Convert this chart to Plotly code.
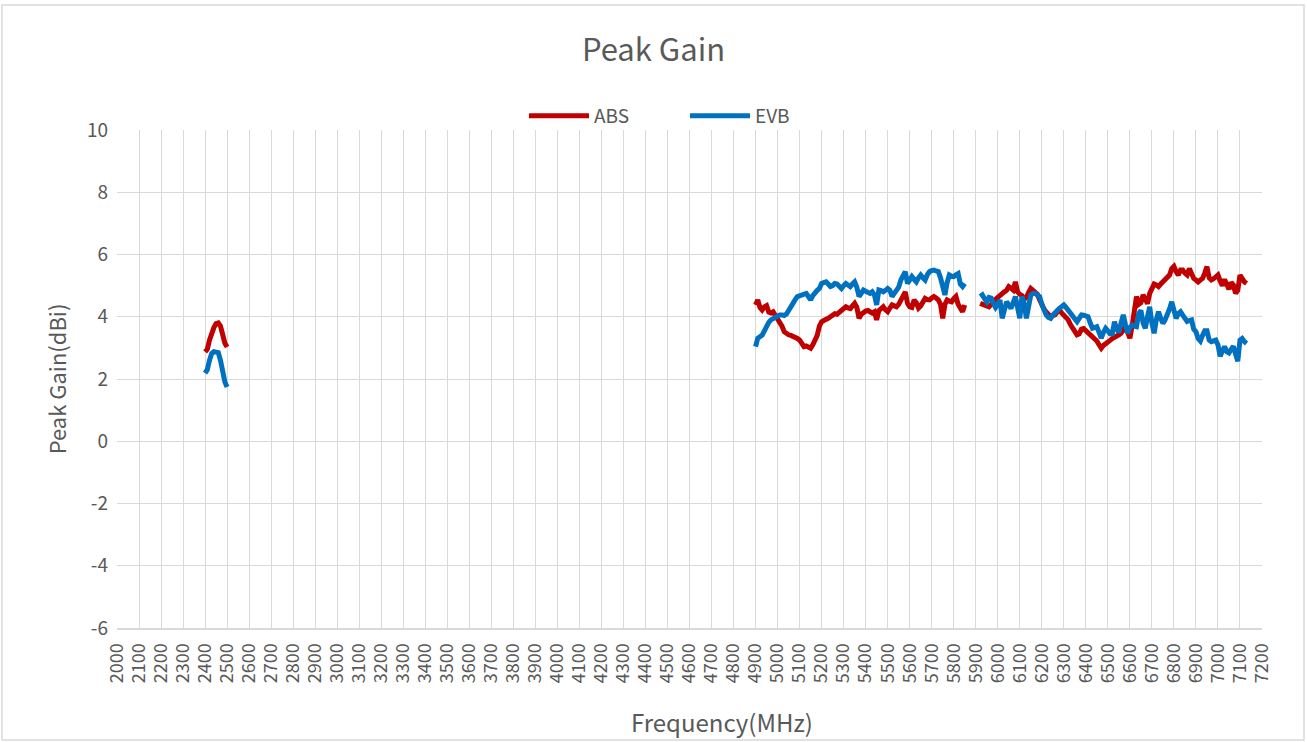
import plotly.graph_objects as go

# ---------------- data ----------------
f_24 = list(range(2400, 2510, 10))
abs_24 = [2.87, 2.95, 3.25, 3.50, 3.65, 3.78, 3.80, 3.70, 3.40, 3.15, 3.03]
evb_24 = [2.19, 2.30, 2.60, 2.82, 2.88, 2.87, 2.85, 2.60, 2.20, 1.90, 1.74]

f_5g = list(range(4900, 5860, 10))
abs_5g = [4.38, 4.54, 4.30, 4.22, 4.32, 4.36, 4.15, 4.12, 4.16, 4.05,
          3.98, 3.88, 3.70, 3.52, 3.45, 3.42, 3.40, 3.38, 3.34, 3.30,
          3.25, 3.12, 3.04, 3.06, 3.04, 2.99, 3.10, 3.22, 3.40, 3.70,
          3.84, 3.88, 3.90, 3.95, 4.00, 4.04, 4.10, 4.08, 4.14, 4.16,
          4.22, 4.32, 4.28, 4.26, 4.35, 4.43, 4.30, 3.95, 4.08, 4.16,
          4.18, 4.20, 4.18, 4.12, 4.16, 3.90, 4.20, 4.26, 4.32, 4.22,
          4.16, 4.28, 4.38, 4.35, 4.32, 4.40, 4.55, 4.62, 4.80, 4.43,
          4.32, 4.30, 4.54, 4.45, 4.28, 4.35, 4.52, 4.59, 4.55, 4.54,
          4.60, 4.65, 4.60, 4.54, 4.40, 3.95, 4.40, 4.54, 4.50, 4.48,
          4.58, 4.65, 4.40, 4.25, 4.16, 4.38]
evb_5g = [3.04, 3.31, 3.36, 3.41, 3.55, 3.73, 3.82, 3.90, 3.95, 4.00,
          4.03, 4.06, 4.06, 4.04, 4.08, 4.22, 4.35, 4.43, 4.55, 4.65,
          4.68, 4.70, 4.72, 4.75, 4.65, 4.54, 4.68, 4.78, 4.85, 4.91,
          5.07, 5.10, 5.12, 5.05, 4.97, 5.00, 5.07, 5.05, 4.95, 4.91,
          5.00, 5.07, 5.02, 4.97, 5.05, 5.12, 4.95, 4.65, 4.75, 4.86,
          4.82, 4.78, 4.75, 4.80, 4.70, 4.38, 4.86, 4.84, 4.80, 4.85,
          4.91, 4.85, 4.65, 4.75, 4.88, 4.95, 5.18, 5.30, 5.45, 5.07,
          5.20, 5.29, 5.20, 5.12, 5.25, 5.34, 5.25, 5.18, 5.35, 5.45,
          5.48, 5.50, 5.47, 5.45, 5.25, 4.97, 4.70, 5.10, 5.34, 5.30,
          5.29, 5.35, 5.39, 5.05, 4.97, 5.07]

f_6g = list(range(5920, 7140, 10))
abs_6g = [4.43, 4.40, 4.38, 4.35, 4.32, 4.40, 4.50, 4.56, 4.62, 4.70,
          4.75, 4.80, 4.85, 4.97, 4.92, 4.86, 5.12, 4.80, 4.72, 4.68,
          4.56, 4.62, 4.78, 4.91, 4.85, 4.80, 4.72, 4.55, 4.36, 4.25,
          4.15, 4.04, 4.00, 4.04, 4.06, 4.15, 4.22, 4.12, 4.06, 4.00,
          3.90, 3.75, 3.63, 3.52, 3.42, 3.45, 3.60, 3.62, 3.55, 3.52,
          3.45, 3.36, 3.30, 3.22, 3.10, 2.99, 3.08, 3.15, 3.20, 3.24,
          3.30, 3.33, 3.36, 3.42, 3.47, 3.55, 3.68, 3.50, 3.31, 3.70,
          4.10, 4.65, 4.40, 4.45, 4.70, 4.50, 4.42, 4.75, 4.90, 5.05,
          5.02, 4.97, 5.05, 5.12, 5.18, 5.25, 5.34, 5.55, 5.62, 5.45,
          5.34, 5.50, 5.50, 5.40, 5.34, 5.55, 5.40, 5.23, 5.18, 5.12,
          5.18, 5.23, 5.40, 5.61, 5.25, 5.18, 5.22, 5.28, 5.34, 5.15,
          5.00, 5.20, 5.05, 4.88, 5.10, 5.02, 4.75, 4.85, 5.34, 5.20,
          5.12, 5.07]
evb_6g = [4.65, 4.70, 4.58, 4.48, 4.62, 4.60, 4.43, 4.30, 4.40, 4.54,
          3.95, 4.20, 4.48, 4.38, 4.27, 4.45, 4.65, 4.30, 3.95, 4.65,
          4.43, 3.95, 4.30, 4.70, 4.75, 4.75, 4.70, 4.65, 4.40, 4.22,
          4.06, 3.98, 3.95, 4.05, 4.16, 4.20, 4.27, 4.32, 4.38, 4.30,
          4.22, 4.10, 4.00, 3.92, 3.84, 3.95, 4.06, 4.05, 4.02, 4.00,
          3.80, 3.63, 3.65, 3.68, 3.50, 3.31, 3.50, 3.63, 3.55, 3.45,
          3.45, 3.84, 3.60, 3.50, 3.80, 4.06, 3.75, 3.47, 3.65, 3.73,
          3.70, 3.68, 4.10, 4.20, 3.80, 3.63, 4.00, 4.32, 3.80, 3.47,
          3.90, 4.16, 3.95, 3.79, 3.90, 4.06, 4.25, 4.48, 4.20, 3.95,
          4.10, 4.16, 4.05, 3.95, 3.85, 3.88, 3.90, 3.60, 3.52, 3.30,
          3.22, 3.40, 3.55, 3.55, 3.25, 3.20, 3.22, 3.25, 3.10, 2.73,
          2.90, 3.04, 2.88, 2.84, 2.95, 3.05, 2.80, 2.57, 3.25, 3.30,
          3.20, 3.14]

x_ticks = list(range(2000, 7300, 100))
y_ticks = list(range(-6, 12, 2))
y_labels = [str(v) for v in y_ticks]

# ---------------- build ----------------
def join(*segs):
    out = []
    for i, s in enumerate(segs):
        if i:
            out.append(None)
        out.extend(s)
    return out

x_all = join(f_24, f_5g, f_6g)
abs_all = join(abs_24, abs_5g, abs_6g)
evb_all = join(evb_24, evb_5g, evb_6g)

FONT = "Noto Sans CJK SC"
GREY = "#595959"
GRID = "#d9d9d9"

fig = go.Figure()
fig.add_trace(go.Scatter(x=x_all, y=abs_all, name="ABS", mode="lines",
                         line=dict(color="#C00000", width=5), connectgaps=False))
fig.add_trace(go.Scatter(x=x_all, y=evb_all, name="EVB", mode="lines",
                         line=dict(color="#0070C0", width=5), connectgaps=False))

L, R, T, B = 117, 45, 130, 114
W, H = 1307, 742
pw, ph = W - L - R, H - T - B

def px2x(px):
    return (px - L) / pw

def py2y(py):
    return (H - B - py) / ph

fig.update_layout(
    width=W, height=H,
    margin=dict(l=L, r=R, t=T, b=B),
    paper_bgcolor="white", plot_bgcolor="white",
    font=dict(family=FONT, color=GREY),
    title=dict(text="Peak Gain", x=0.5, xanchor="center", y=1 - 50 / H,
               yanchor="middle", font=dict(size=31, color=GREY, family=FONT)),
    legend=dict(orientation="h", x=px2x(524), xanchor="left", y=py2y(116),
                yanchor="middle", font=dict(size=19, color=GREY, family=FONT),
                bgcolor="rgba(0,0,0,0)", itemwidth=60,
                entrywidth=86, entrywidthmode="pixels"),
    showlegend=True,
    shapes=[dict(type="rect", xref="paper", yref="paper",
                 x0=px2x(2), x1=px2x(1304), y0=py2y(740), y1=py2y(5),
                 line=dict(color=GRID, width=1.5), fillcolor="rgba(0,0,0,0)",
                 layer="below")],
    annotations=[dict(text="Frequency(MHz)", xref="paper", yref="paper",
                      x=px2x(722), y=py2y(721), xanchor="center", yanchor="middle",
                      showarrow=False, font=dict(size=24, color=GREY, family=FONT))],
)

fig.update_xaxes(range=[2000, 7200], tickmode="array", tickvals=x_ticks,
                 ticktext=[str(v) for v in x_ticks], tickangle=-90,
                 tickfont=dict(size=18, color=GREY, family=FONT),
                 showgrid=True, gridcolor=GRID, gridwidth=1,
                 showline=True, linecolor=GRID, linewidth=2,
                 zeroline=False, ticks="", ticklabelstandoff=6)
fig.update_yaxes(range=[-6, 10], tickmode="array", tickvals=y_ticks,
                 ticktext=y_labels,
                 tickfont=dict(size=19, color=GREY, family=FONT),
                 showgrid=True, gridcolor=GRID, gridwidth=1,
                 zeroline=False, ticks="", ticklabelstandoff=8,
                 title=dict(text="Peak Gain(dBi)", standoff=14,
                            font=dict(size=22, color=GREY, family=FONT)))

fig.write_html("out.html", config={"displayModeBar": False})

# remove default page margin so the figure sits at the window's top-left
with open("out.html", "r", encoding="utf-8") as fh:
    page = fh.read()
page = page.replace("<head>", "<head><style>html,body{margin:0;padding:0;overflow:hidden}</style>", 1)
with open("out.html", "w", encoding="utf-8") as fh:
    fh.write(page)
